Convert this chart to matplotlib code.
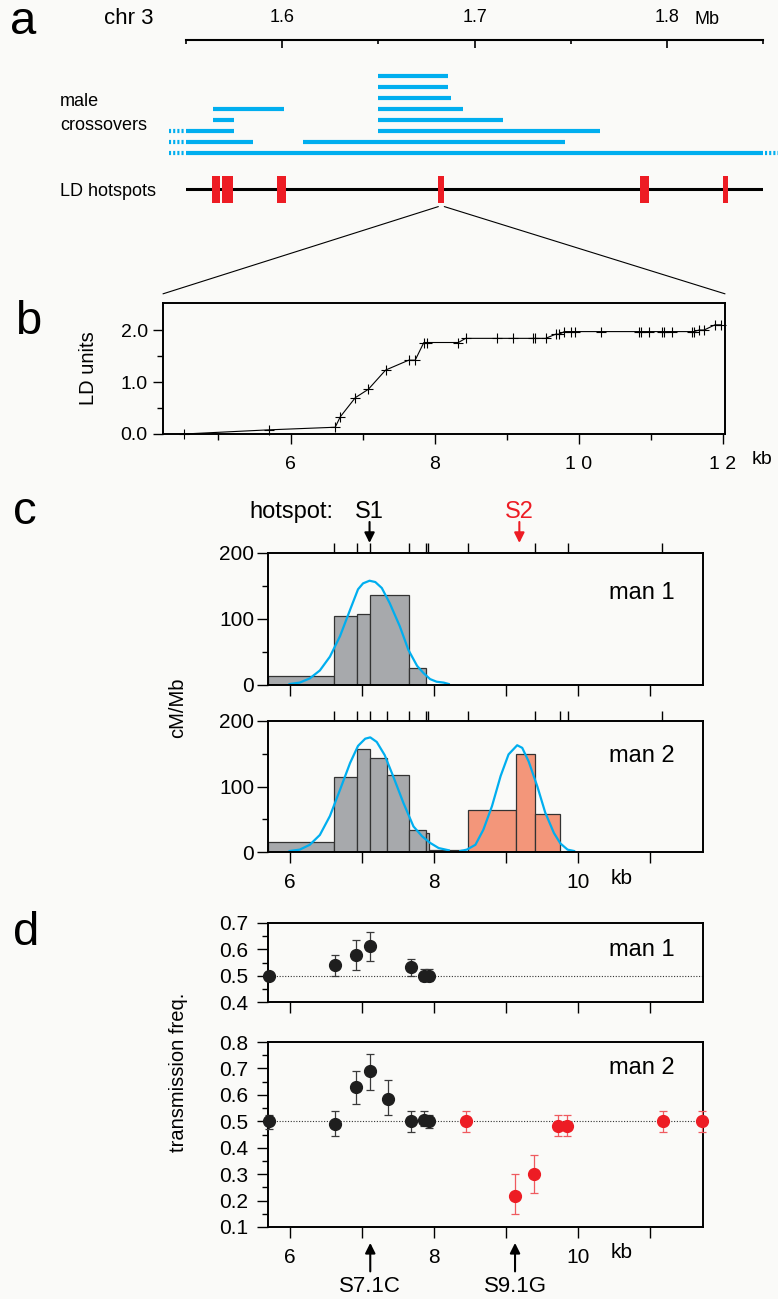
"""
Crossover / LD hotspot figure (panels a-d)
"""

import matplotlib.pyplot as plt
import matplotlib.transforms as mtransforms
from matplotlib.patches import ConnectionPatch
import numpy as np

plt.rcParams['font.family'] = ['Liberation Sans', 'DejaVu Sans']

# ---------------- data ----------------
# panel a: male crossover intervals (Mb), one list per row, top to bottom
xo_rows = [
    [(1.650, 1.686)],
    [(1.650, 1.686)],
    [(1.650, 1.688)],
    [(1.564, 1.601), (1.650, 1.694)],
    [(1.564, 1.575), (1.650, 1.715)],
    [(1.550, 1.575), (1.650, 1.765)],
    [(1.550, 1.585), (1.611, 1.747)],
    [(1.550, 1.850)],
]
xo_open_left = [5, 6, 7]
xo_open_right = [7]
hot_start = [1.5634, 1.5688, 1.5975, 1.6812, 1.7862, 1.8294]
hot_end = [1.5678, 1.5743, 1.6019, 1.6843, 1.7906, 1.8320]
zoom_hotspot = 3

# panel b: cumulative LD units along the zoomed region (kb)
ld_kb = [4.52, 5.70, 6.62, 6.69, 6.90, 7.08, 7.32, 7.64, 7.73, 7.85, 7.90,
         8.33, 8.43, 8.86, 9.09, 9.36, 9.39, 9.54, 9.68, 9.73, 9.80, 9.89,
         9.95, 10.31, 10.84, 10.87, 10.98, 11.15, 11.18, 11.29, 11.57,
         11.60, 11.67, 11.74, 11.89, 11.98]
ld_units = [0.00, 0.08, 0.13, 0.33, 0.70, 0.86, 1.23, 1.42, 1.42, 1.76,
            1.76, 1.76, 1.84, 1.84, 1.84, 1.84, 1.84, 1.84, 1.92, 1.92,
            1.97, 1.97, 1.97, 1.97, 1.97, 1.97, 1.97, 1.97, 1.97, 1.97,
            1.97, 1.97, 2.00, 2.00, 2.10, 2.10]

# panel c: crossover rate histograms (cM/Mb) and fitted curves
c1_edges = [5.70, 6.61, 6.93, 7.11, 7.66, 7.89]
c1_rate = [13, 105, 108, 136, 26]
c1_fit_kb = [6.00, 6.14, 6.28, 6.42, 6.56, 6.70, 6.84, 6.95, 7.02, 7.11,
             7.19, 7.28, 7.39, 7.53, 7.65, 7.77, 7.86, 7.95, 8.04, 8.14, 8.21]
c1_fit = [1.5, 3.6, 10, 22, 43, 74, 114, 145, 154, 158, 156, 147, 124, 89,
          53, 29, 18, 9, 5, 3.6, 1.5]
c1_top_ticks = [6.61, 6.93, 7.11, 7.66, 7.89, 7.92, 8.48, 9.41, 9.87, 11.17]

c2_edges = [5.70, 6.61, 6.93, 7.11, 7.35, 7.66, 7.89, 7.93, 8.40]
c2_rate = [15, 115, 157, 143, 118, 33, 29, 3]
c2_red_edges = [8.48, 9.14, 9.41, 9.75]
c2_red_rate = [64, 150, 58]
c2_fit1_kb = [6.00, 6.14, 6.28, 6.42, 6.56, 6.70, 6.84, 6.95, 7.05, 7.12,
              7.21, 7.32, 7.44, 7.58, 7.72, 7.84, 7.95, 8.07, 8.21]
c2_fit1 = [1.5, 3.6, 11, 26, 55, 95, 136, 162, 173, 175, 168, 148, 115, 75,
           39, 24, 14, 6, 2.6]
c2_fit2_kb = [8.37, 8.46, 8.58, 8.69, 8.81, 8.93, 9.04, 9.16, 9.23, 9.32,
              9.44, 9.55, 9.67, 9.76, 9.86, 9.95]
c2_fit2 = [1.5, 3.6, 11, 34, 70, 116, 149, 163, 159, 138, 100, 60, 29, 13,
           3.6, 1.5]
c2_top_ticks = [6.61, 6.93, 7.11, 7.35, 7.66, 7.89, 7.92, 8.48, 9.41, 9.76,
                9.86, 11.17]
hotspots_c = {'S1': 7.11, 'S2': 9.19}

# panel d: transmission frequency with 95% limits
d1_kb = [5.71, 6.63, 6.92, 7.12, 7.68, 7.87, 7.94]
d1_val = [0.50, 0.541, 0.580, 0.612, 0.532, 0.50, 0.50]
d1_lo = [0.50, 0.50, 0.523, 0.557, 0.50, 0.48, 0.48]
d1_hi = [0.50, 0.578, 0.637, 0.667, 0.565, 0.525, 0.525]

d2_kb = [5.71, 6.63, 6.92, 7.12, 7.36, 7.68, 7.87, 7.94]
d2_val = [0.50, 0.491, 0.628, 0.690, 0.586, 0.50, 0.506, 0.50]
d2_lo = [0.472, 0.446, 0.564, 0.619, 0.523, 0.459, 0.481, 0.474]
d2_hi = [0.525, 0.540, 0.691, 0.755, 0.657, 0.540, 0.540, 0.525]

d2r_kb = [8.45, 9.13, 9.39, 9.73, 9.85, 11.18, 11.73]
d2r_val = [0.50, 0.218, 0.300, 0.483, 0.483, 0.50, 0.50]
d2r_lo = [0.459, 0.150, 0.228, 0.443, 0.443, 0.459, 0.459]
d2r_hi = [0.540, 0.300, 0.372, 0.523, 0.523, 0.540, 0.540]
snps_d = {'S7.1C': 7.12, 'S9.1G': 9.13}

# ---------------- style ----------------
W, H = 778, 1299
BG = '#fafaf8'
BLUE = '#00aeef'
RED = '#ed1c24'
GREY = '#a7a9ac'
SALMON = '#f3967a'
DARK = '#1e1e1e'


def box(l, t, r, b):
    return [l / W, 1 - b / H, (r - l) / W, (b - t) / H]


def ftext(x, y, s, **kw):
    kw.setdefault('va', 'center')
    fig.text(x / W, 1 - y / H, s, **kw)


fig = plt.figure(figsize=(W / 100, H / 100), dpi=100, facecolor=BG)

# ---------------- panel a ----------------
ax_a = fig.add_axes(box(186, 40, 763, 210))
ax_a.set_facecolor('none')
ax_a.set_xlim(1.55, 1.85)
ax_a.set_ylim(12.18, -3.273)
for i, segs in enumerate(xo_rows):
    for s, e in segs:
        ax_a.plot([s, e], [i, i], color=BLUE, lw=3, solid_capstyle='butt')
x0, x1 = ax_a.get_xlim()
for i in xo_open_left:
    ax_a.plot([x0 - 0.009, x0 - 0.001], [i, i], color=BLUE, lw=3,
              ls=(0, (0.5, 0.5)), clip_on=False)
for i in xo_open_right:
    ax_a.plot([x1 + 0.001, x1 + 0.008], [i, i], color=BLUE, lw=3,
              ls=(0, (0.5, 0.5)), clip_on=False)
hot_row = 10.27
ax_a.plot([x0, x1], [hot_row, hot_row], color='k', lw=2.2, zorder=2)
ax_a.bar(hot_start, 2.46, width=np.subtract(hot_end, hot_start),
         bottom=hot_row - 1.18, align='edge', color=RED, zorder=3)
for side in ['left', 'right', 'bottom']:
    ax_a.spines[side].set_visible(False)
ax_a.spines['top'].set_linewidth(1.5)
ax_a.xaxis.tick_top()
ax_a.set_xticks([1.6, 1.7, 1.8], ['1.6', '1.7', '1.8'])
ax_a.set_xticks([1.55, 1.65, 1.75, 1.85], minor=True)
ax_a.tick_params(axis='x', which='major', direction='in', length=6,
                 width=1.2, pad=10, labelsize=13)
ax_a.tick_params(axis='x', which='minor', direction='in', length=3, width=1.2)
ax_a.set_yticks([])

ftext(10, 22, 'a', fontsize=34)
ftext(104, 19, 'chr 3', fontsize=16)
ftext(695, 19, 'Mb', fontsize=13)
ftext(60, 102, 'male', fontsize=13)
ftext(60, 126, 'crossovers', fontsize=13)
ftext(60, 191, 'LD hotspots', fontsize=13)

# ---------------- panel b ----------------
ax_b = fig.add_axes(box(163, 303, 725, 434))
ax_b.set_facecolor('none')
ax_b.plot(ld_kb, ld_units, color='k', lw=0.8, marker='+', ms=7, mew=0.8,
          clip_on=False)
ax_b.set_xlim(4.23, 12.03)
ax_b.set_ylim(0, 2.52)
ax_b.set_xticks([6, 8, 10, 12], ['6', '8', '1 0', '1 2'])
ax_b.set_xticks([5, 7, 9, 11], minor=True)
ax_b.set_yticks([0, 1, 2], ['0.0', '1.0', '2.0'])
ax_b.set_yticks([0.5, 1.5], minor=True)
ax_b.tick_params(which='major', direction='out', length=7, width=1,
                 labelsize=14)
ax_b.tick_params(which='minor', direction='out', length=4, width=1)
ax_b.tick_params(axis='x', pad=9)
ax_b.tick_params(axis='y', pad=4)
for sp in ax_b.spines.values():
    sp.set_linewidth(1.4)
ax_b.set_ylabel('LD units', fontsize=14.5)
ax_b.yaxis.set_label_coords(-0.115, 0.5)
ftext(752, 460, 'kb', fontsize=14)
ftext(15, 322, 'b', fontsize=34)

# zoom lines from the chosen LD hotspot down to panel b
for xa, xb in [(hot_start[zoom_hotspot], 0), (hot_end[zoom_hotspot], 1)]:
    con = ConnectionPatch(xyA=(xa, hot_row + 1.6), coordsA='data', axesA=ax_a,
                          xyB=(xb, 1.07), coordsB='axes fraction', axesB=ax_b,
                          color='k', lw=0.8)
    fig.add_artist(con)

# ---------------- panel c ----------------
ax_c1 = fig.add_axes(box(268, 553, 703, 685))
ax_c2 = fig.add_axes(box(268, 721, 703, 852))

ax_c1.bar(c1_edges[:-1], c1_rate, width=np.diff(c1_edges), align='edge',
          color=GREY, edgecolor='#333333', lw=0.9)
ax_c1.plot(c1_fit_kb, c1_fit, color=BLUE, lw=1.6)

ax_c2.bar(c2_edges[:-1], c2_rate, width=np.diff(c2_edges), align='edge',
          color=GREY, edgecolor='#333333', lw=0.9)
ax_c2.bar(c2_red_edges[:-1], c2_red_rate, width=np.diff(c2_red_edges),
          align='edge', color=SALMON, edgecolor='#333333', lw=0.9)
ax_c2.plot(c2_fit1_kb, c2_fit1, color=BLUE, lw=1.6)
ax_c2.plot(c2_fit2_kb, c2_fit2, color=BLUE, lw=1.6)

for ax, tops, name, ylab in [(ax_c1, c1_top_ticks, 'man 1', 0.70),
                             (ax_c2, c2_top_ticks, 'man 2', 0.733)]:
    ax.set_facecolor('none')
    ax.set_xlim(5.70, 11.74)
    ax.set_ylim(0, 200)
    ax.set_xticks([6, 8, 10], ['6', '8', '10'])
    ax.set_xticks([7, 9, 11], minor=True)
    ax.set_yticks([0, 100, 200])
    ax.set_yticks([50, 150], minor=True)
    ax.tick_params(which='major', direction='out', length=8, width=1,
                   labelsize=15)
    ax.tick_params(which='minor', direction='out', length=4, width=1)
    ax.tick_params(axis='x', which='minor', length=8)
    ax.tick_params(axis='x', pad=7)
    ax.tick_params(axis='y', pad=2)
    for sp in ax.spines.values():
        sp.set_linewidth(1.4)
    sec = ax.secondary_xaxis('top')
    sec.set_xticks(tops, [''] * len(tops))
    sec.tick_params(direction='out', length=7, width=1)
    sec.spines['top'].set_visible(False)
    ax.text(0.784, ylab, name, transform=ax.transAxes, fontsize=17,
            va='center', ha='left')
ax_c1.tick_params(axis='x', labelbottom=False)

trans_c = mtransforms.blended_transform_factory(ax_c1.transData,
                                                ax_c1.transAxes)
for name, kb in hotspots_c.items():
    col = RED if name == 'S2' else 'k'
    ax_c1.annotate('', xy=(kb, 1.076), xytext=(kb, 1.235), xycoords=trans_c,
                   textcoords=trans_c, annotation_clip=False,
                   arrowprops=dict(arrowstyle='-|>', color=col, lw=1.5,
                                   mutation_scale=15, shrinkA=0, shrinkB=0))
    ax_c1.text(kb, 1.31, name, transform=trans_c, color=col, fontsize=17,
               ha='center', va='center')
ftext(249, 512, 'hotspot:', fontsize=17)
ftext(178, 708, 'cM/Mb', fontsize=14.5, rotation=90, ha='center')
ftext(611, 878, 'kb', fontsize=15)
ftext(13, 512, 'c', fontsize=34)

# ---------------- panel d ----------------
ax_d1 = fig.add_axes(box(268, 923, 703, 1002))
ax_d2 = fig.add_axes(box(268, 1042, 703, 1227))


def tf_points(ax, kb, val, lo, hi, col, ecol):
    val = np.array(val)
    yerr = [val - np.array(lo), np.array(hi) - val]
    eb = ax.errorbar(kb, val, yerr=yerr, fmt='o', color=col, ms=8.5,
                     ecolor=ecol, elinewidth=0.9, capsize=3, capthick=0.9,
                     zorder=3)
    for a in eb.get_children():
        a.set_clip_on(False)


tf_points(ax_d1, d1_kb, d1_val, d1_lo, d1_hi, DARK, '#3a3a3a')
tf_points(ax_d2, d2_kb, d2_val, d2_lo, d2_hi, DARK, '#3a3a3a')
tf_points(ax_d2, d2r_kb, d2r_val, d2r_lo, d2r_hi, RED, '#ef5a5f')

for ax, ylim, name, ylab in [(ax_d1, (0.4, 0.7), 'man 1', 0.658),
                             (ax_d2, (0.1, 0.8), 'man 2', 0.86)]:
    ax.set_facecolor('none')
    ax.axhline(0.5, color='#333333', lw=0.8, ls=(0, (1, 1.5)), zorder=1)
    ax.set_xlim(5.70, 11.74)
    ax.set_ylim(*ylim)
    ax.set_xticks([6, 8, 10], ['6', '8', '10'])
    ax.set_xticks([7, 9, 11], minor=True)
    ax.set_yticks(np.arange(ylim[0], ylim[1] + 0.01, 0.1))
    ax.yaxis.set_major_formatter('{x:.1f}')
    ax.set_yticks(np.arange(ylim[0] + 0.05, ylim[1], 0.1), minor=True)
    ax.tick_params(which='major', direction='out', length=8, width=1,
                   labelsize=15)
    ax.tick_params(which='minor', direction='out', length=4, width=1)
    ax.tick_params(axis='x', which='minor', length=8)
    ax.tick_params(axis='x', pad=7)
    ax.tick_params(axis='y', pad=6)
    for sp in ax.spines.values():
        sp.set_linewidth(1.4)
    ax.text(0.784, ylab, name, transform=ax.transAxes, fontsize=17,
            va='center', ha='left')
ax_d1.tick_params(axis='x', labelbottom=False)

trans_d = mtransforms.blended_transform_factory(ax_d2.transData,
                                                ax_d2.transAxes)
for name, kb in snps_d.items():
    ax_d2.annotate('', xy=(kb, -0.086), xytext=(kb, -0.24),
                   xycoords=trans_d, textcoords=trans_d,
                   annotation_clip=False,
                   arrowprops=dict(arrowstyle='-|>', color='k', lw=1.5,
                                   mutation_scale=15, shrinkA=0, shrinkB=0))
    ax_d2.text(kb, -0.32, name, transform=trans_d, fontsize=16,
               ha='center', va='center')
ftext(178, 1072, 'transmission freq.', fontsize=14.5, rotation=90, ha='center')
ftext(611, 1253, 'kb', fontsize=15)
ftext(13, 933, 'd', fontsize=34)

fig.savefig('out.png', dpi=100, facecolor=BG)
